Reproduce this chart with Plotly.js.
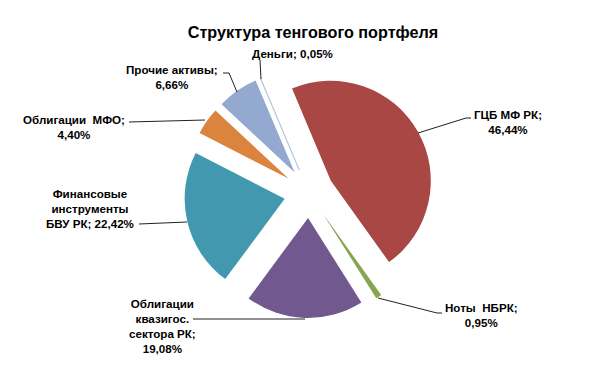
<!DOCTYPE html>
<html>
<head>
<meta charset="utf-8">
<script src="https://cdn.plot.ly/plotly-3.0.1.min.js"></script>
<style>html,body{margin:0;padding:0;background:#fff;}#chart{width:600px;height:371px;}</style>
</head>
<body>
<div id="chart"></div>
<script>
const categories = ["Деньги", "ГЦБ МФ РК", "Ноты НБРК", "Облигации квазигос. сектора РК", "Финансовые инструменты БВУ РК", "Облигации МФО", "Прочие активы"];
const values = [0.05, 46.44, 0.95, 19.08, 22.42, 4.40, 6.66];
const labelTexts = ["Деньги; 0,05%", "ГЦБ МФ РК;<br>46,44%", "Ноты  НБРК;<br>0,95%", "Облигации<br>квазигос.<br>сектора РК;<br>19,08%", "Финансовые<br>инструменты<br>БВУ РК; 22,42%", "Облигации  МФО;<br>4,40%", "Прочие активы;<br>6,66%"];
const colors = ["#B7CBE6", "#A84744", "#89A54E", "#71588F", "#4198AF", "#DB843D", "#93A9CF"];

const W = 600, H = 371;
const px = x => x / W;
const py = y => 1 - y / H;

// label centre positions (pixels) and leader polylines
const labelPos = [[292, 54], [508, 122], [481, 315], [162, 326], [90, 208], [74, 127], [172, 77]];
const leaders = [
  [[260, 60], [261, 79]],
  [[418, 133], [466, 118], [471, 118]],
  [[378, 298], [437, 313], [442, 313]],
  [[305, 319], [193, 319]],
  [[187, 222], [139, 224]],
  [[205, 120], [129, 122]],
  [[237, 92], [229, 73], [223, 73]]
];

const annotations = labelTexts.map((t, i) => ({
  text: '<b>' + t + '</b>', x: px(labelPos[i][0]), y: py(labelPos[i][1]), xref: 'paper', yref: 'paper',
  xanchor: 'center', yanchor: 'middle', align: 'center', showarrow: false,
  font: {family: 'Liberation Sans, Arial, sans-serif', size: 11.6, color: '#000'}
}));

const shapes = leaders.map(pts => ({
  type: 'path', xref: 'paper', yref: 'paper',
  path: pts.map((p, j) => (j ? 'L' : 'M') + px(p[0]) + ',' + py(p[1])).join(' '),
  line: {color: '#222', width: 1}
}));

const trace = {
  type: 'pie',
  labels: categories,
  values: values,
  sort: false,
  direction: 'clockwise',
  rotation: -23,
  pull: values.map(() => 0.25),
  textinfo: 'none',
  hoverinfo: 'label+percent',
  marker: {colors: colors, line: {color: colors.map((c, i) => i === 0 ? c : '#fff'), width: values.map((v, i) => i === 0 ? 1 : 0)}},
  domain: {x: [px(184), px(434)], y: [py(318), py(68)]},
  showlegend: false
};

const layout = {
  width: W, height: H,
  margin: {l: 0, r: 0, t: 0, b: 0},
  paper_bgcolor: '#fff',
  title: {text: '<b>Структура тенгового портфеля</b>', x: px(313), xanchor: 'center', y: py(32), yanchor: 'middle', xref: 'paper', yref: 'paper',
    font: {family: 'Liberation Sans, Arial, sans-serif', size: 16.2, color: '#000'}},
  annotations: annotations,
  shapes: shapes,
  showlegend: false
};

Plotly.newPlot('chart', [trace], layout, {displayModeBar: false, staticPlot: true});
</script>
</body>
</html>
